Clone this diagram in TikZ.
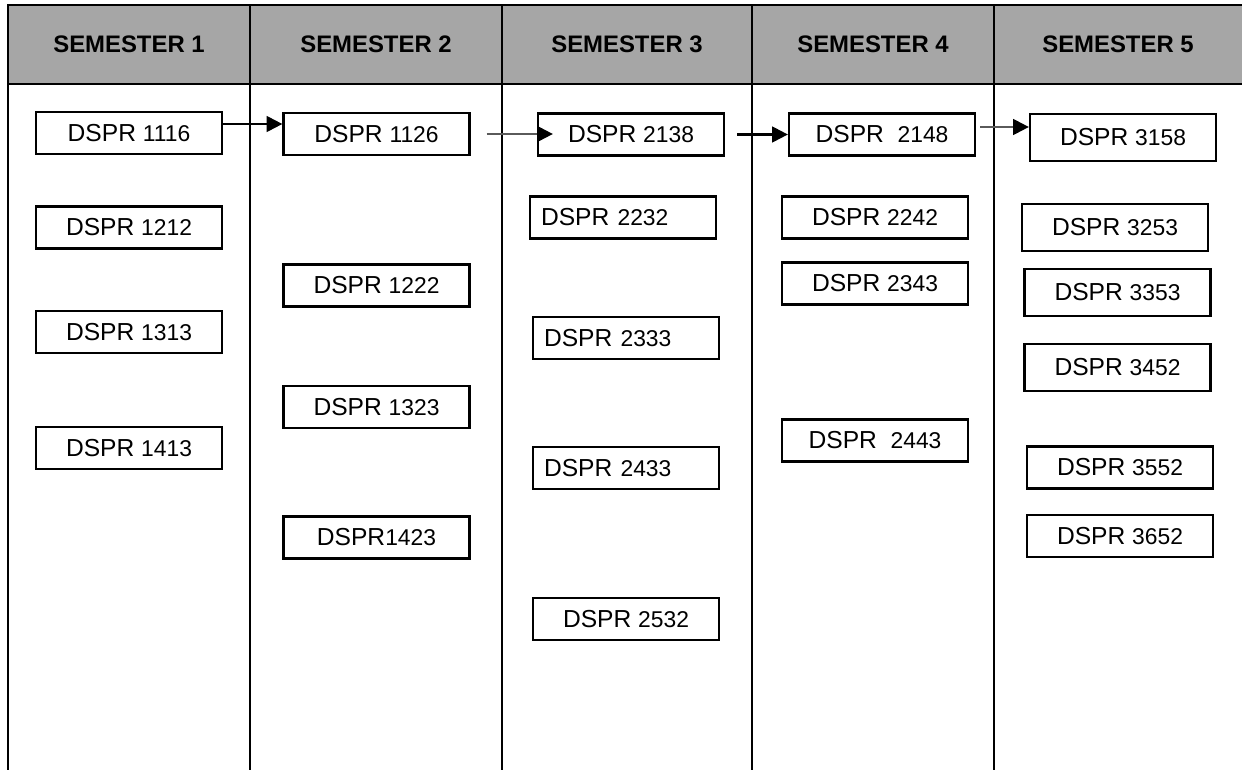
\documentclass[tikz,border=0pt]{standalone}
\usepackage{fontspec}
\setmainfont{Liberation Sans}
\usetikzlibrary{arrows.meta, positioning}

\definecolor{headgray}{HTML}{A6A6A6}
\definecolor{linkgray}{HTML}{5A5A5A}
\newcommand{\cno}[1]{{\fontsize{13}{15}\selectfont #1}}

\begin{document}
\begin{tikzpicture}[
    x=0.02cm, y=-0.02cm,
    >={Triangle[length=9pt, width=9pt]},
    course/.style={draw, line width=1.3pt, minimum width=3.72cm,
                   minimum height=0.84cm, inner sep=0pt,
                   font=\fontsize{14}{16}\selectfont},
    tall/.style={course, minimum height=0.94cm},
    lcourse/.style={course, text width=3.28cm, align=left},
    sem/.style={font=\fontsize{13.6}{16}\selectfont\bfseries},
    grid/.style={line width=1.3pt},
    link/.style={->, line width=1.3pt},
    glink/.style={-{Triangle[length=9pt, width=9pt, color=black]},
                  line width=1.3pt, linkgray}
  ]
  \useasboundingbox (0,0) rectangle (1242,770);
  \fill[headgray] (8,5) rectangle (1242,84);
  \draw[grid] (1242,5) -- (8,5) -- (8,770);
  \draw[grid] (8,84) -- (1242,84);
  \foreach \lx in {250,502,752,994}
    \draw[grid] (\lx,5) -- (\lx,770);
  \foreach \i/\cx in {1/129,2/376,3/627,4/873,5/1118}
    \node[sem] (sem\i) at (\cx,44) {SEMESTER \i};

  \node[course] (c1116) at (129,133) {DSPR \cno{1116}};
  \node[course] (c1212) at (129,227.5) {DSPR \cno{1212}};
  \node[course] (c1313) at (129,332) {DSPR \cno{1313}};
  \node[course] (c1413) at (129,448) {DSPR \cno{1413}};

  \node[course] (c1126) at (376.5,134) {DSPR \cno{1126}};
  \node[course] (c1222) at (376.5,285.5) {DSPR \cno{1222}};
  \node[course] (c1323) at (376.5,407) {DSPR \cno{1323}};
  \node[course] (c1423) at (376.5,537.5) {DSPR\cno{1423}};

  \node[course] (c2138) at (631,134.5) {DSPR \cno{2138}};
  \node[lcourse] (c2232) at (623,217.5) {DSPR \cno{2232}};
  \node[lcourse] (c2333) at (626,338) {DSPR \cno{2333}};
  \node[lcourse] (c2433) at (626,468) {DSPR \cno{2433}};
  \node[course] (c2532) at (626,619) {DSPR \cno{2532}};

  \node[course] (c2148) at (882,134.5) {DSPR\ \ \cno{2148}};
  \node[course] (c2242) at (875,217.5) {DSPR \cno{2242}};
  \node[course] (c2343) at (875,283.5) {DSPR \cno{2343}};
  \node[course] (c2443) at (875,440.5) {DSPR\ \ \cno{2443}};

  \node[tall] (c3158) at (1123,137.5) {DSPR \cno{3158}};
  \node[tall] (c3253) at (1115,227.5) {DSPR \cno{3253}};
  \node[tall] (c3353) at (1117.5,292.5) {DSPR \cno{3353}};
  \node[tall] (c3452) at (1117.5,367.5) {DSPR \cno{3452}};
  \node[course] (c3552) at (1120,467.5) {DSPR \cno{3552}};
  \node[course] (c3652) at (1120,536) {DSPR \cno{3652}};

  \draw[link] ([yshift=0.18cm]c1116.east) -- ([yshift=0.18cm]c1116.east -| c1126.west);
  \draw[glink] ([xshift=0.32cm]c1126.east) -- ([xshift=0.32cm]c1126.east -| c2138.west);
  \draw[link] ([xshift=0.24cm]c2138.east) -- (c2148.west);
  \draw[glink] ([xshift=0.08cm, yshift=0.15cm]c2148.east) -- ([yshift=0.15cm]c2148.east -| c3158.west);
\end{tikzpicture}
\end{document}
